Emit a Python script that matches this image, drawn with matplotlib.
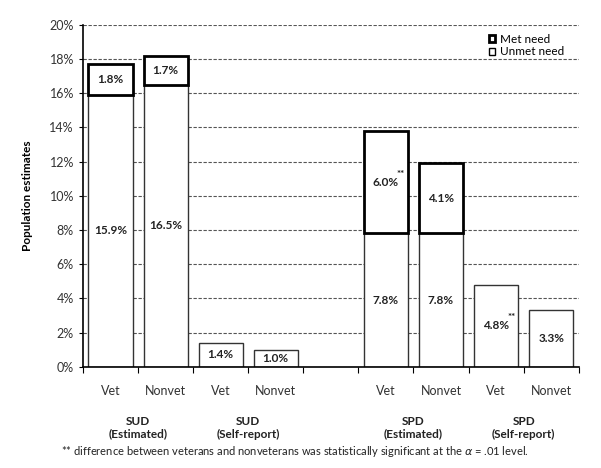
import matplotlib
matplotlib.use("Agg")
import matplotlib.pyplot as plt
from matplotlib.patches import Patch
from matplotlib.ticker import FuncFormatter, MultipleLocator

# data (percent of population)
positions = [0, 1, 2, 3, 5, 6, 7, 8]
bar_names = ["Vet", "Nonvet", "Vet", "Nonvet", "Vet", "Nonvet", "Vet", "Nonvet"]
unmet = [15.9, 16.5, 1.4, 1.0, 7.8, 7.8, 4.8, 3.3]
met = [1.8, 1.7, 0, 0, 6.0, 4.1, 0, 0]
signif = [False, False, False, False, True, False, True, False]
groups = ["SUD\n(Estimated)", "SUD\n(Self-report)", "SPD\n(Estimated)", "SPD\n(Self-report)"]
group_centers = [0.5, 2.5, 5.5, 7.5]

plt.rcParams['font.family'] = ['Lato', 'DejaVu Sans']

fig = plt.figure(figsize=(6.01, 4.68), dpi=100)
ax = fig.add_axes([0.138, 0.216, 0.825, 0.731])

ax.bar(positions, unmet, width=0.8, color="white", edgecolor="#333333",
       linewidth=1.0, zorder=2)
met_pos = [p for p, m in zip(positions, met) if m > 0]
met_val = [m for m in met if m > 0]
met_bot = [u for u, m in zip(unmet, met) if m > 0]
ax.bar(met_pos, met_val, width=0.8, bottom=met_bot, color="white",
       edgecolor="black", linewidth=2.0, zorder=3)

for x, u, m, s in zip(positions, unmet, met, signif):
    ax.text(x, u / 2, f"{u:.1f}%", ha="center", va="center", fontsize=8.5,
            fontweight="bold", color="#222222", zorder=4)
    if m > 0:
        ax.text(x, u + m / 2, f"{m:.1f}%", ha="center", va="center",
                fontsize=8.5, fontweight="bold", color="#222222", zorder=4)
    if s:
        y = u + m / 2 if m > 0 else u / 2
        ax.text(x + 0.2, y + 0.2, "**", ha="left", va="bottom", fontsize=7,
                fontweight="bold", color="#222222", zorder=4)

ax.set_xlim(-0.5, 8.5)
ax.set_ylim(0, 20)
ax.yaxis.set_major_locator(MultipleLocator(2))
ax.yaxis.set_major_formatter(FuncFormatter(lambda v, p: f"{v:.0f}%"))
ax.grid(axis="y", linestyle=(0, (3, 1.5)), color="#555555", linewidth=0.8, zorder=0)
ax.set_axisbelow(True)

ax.set_xticks([p - 0.5 for p in range(10)])
ax.set_xticklabels([])
ax.set_xticks(positions, minor=True)
ax.set_xticklabels(bar_names, minor=True, fontsize=9, color="#333333")
ax.tick_params(axis="x", which="minor", length=0, pad=13)
ax.tick_params(axis="x", which="major", length=4, direction="out")
ax.tick_params(axis="y", length=3, labelsize=9, labelcolor="#333333")

for s in ["top", "right"]:
    ax.spines[s].set_visible(False)
ax.spines["left"].set_linewidth(1.2)
ax.spines["bottom"].set_linewidth(1.2)

for c, g in zip(group_centers, groups):
    ax.text(c, -2.85, g, ha="center", va="top", fontsize=8.5, fontweight="bold",
            color="#222222", linespacing=1.2)

ax.set_ylabel("Population estimates", fontsize=8.5, fontweight="bold", labelpad=12)

handles = [Patch(facecolor="white", edgecolor="black", linewidth=2.0, label="Met need"),
           Patch(facecolor="white", edgecolor="black", linewidth=1.0, label="Unmet need")]
ax.legend(handles=handles, loc="upper right", bbox_to_anchor=(0.985, 0.995),
          frameon=False, fontsize=8.5, handlelength=0.55, handleheight=0.55,
          handletextpad=0.4, labelspacing=0.15, borderpad=0.1)

fig.text(0.49, 0.035, "** difference between veterans and nonveterans was statistically "
         "significant at the $\\alpha$ = .01 level.", ha="center", va="center",
         fontsize=8, color="#222222")

fig.savefig("out.png", dpi=100)
